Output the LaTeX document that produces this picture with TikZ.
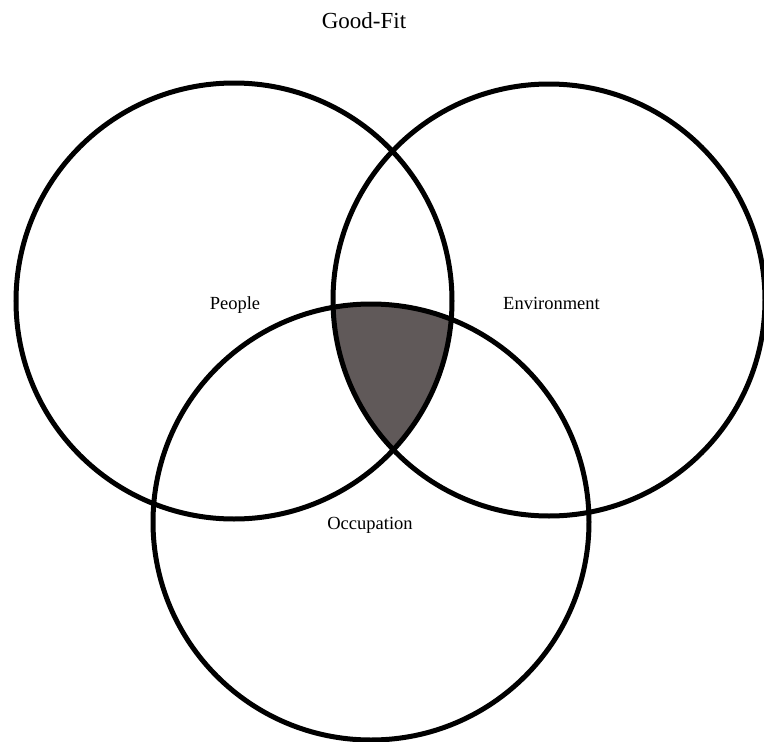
\documentclass[tikz,border=0pt]{standalone}
\usepackage{fontspec}
\setmainfont{Liberation Serif}
\usepackage{xcolor}
\definecolor{fitgray}{RGB}{96,89,89}

\begin{document}
\begin{tikzpicture}[x=1pt, y=-1pt,
    ring/.style={line width=5pt, draw=black},
    label/.style={font=\fontsize{18.5}{22}\selectfont, inner sep=0pt}]
    \useasboundingbox (0,0) rectangle (764,742);
    % circle centres
    \coordinate (peoplec) at (234,301);
    \coordinate (envc) at (549,300);
    \coordinate (occc) at (371,522);
    % shaded overlap of all three
    \begin{scope}
        \clip (peoplec) circle (218);
        \clip (envc) circle (216);
        \fill[fitgray] (occc) circle (218);
    \end{scope}
    \draw[ring] (peoplec) circle (218);
    \draw[ring] (envc) circle (216);
    \draw[ring] (occc) circle (218);
    \node[label, font=\fontsize{23}{27}\selectfont, anchor=base] (title) at (364,28) {Good-Fit};
    \node[label, anchor=base] (people) at (235,309) {People};
    \node[label, anchor=base west] (env) at (503,309) {Environment};
    \node[label, anchor=base] (occ) at (370,529) {Occupation};
\end{tikzpicture}
\end{document}
